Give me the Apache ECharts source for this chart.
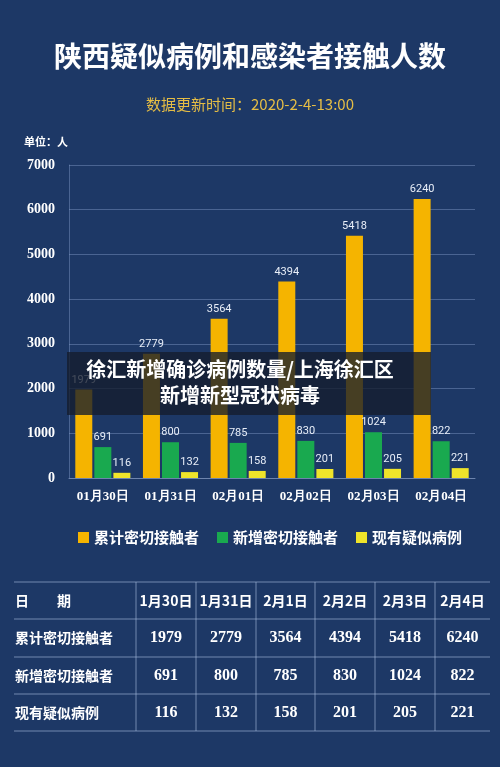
<!DOCTYPE html>
<html><head><meta charset="utf-8">
<script src="https://cdn.jsdelivr.net/npm/echarts@6/dist/echarts.min.js"></script>
<style>html,body{margin:0;padding:0;background:#1d3866;}#c{width:500px;height:767px;}</style>
</head><body><div id="c"></div>
<script>
const categories = ['01月30日','01月31日','02月01日','02月02日','02月03日','02月04日'];
const tableDates = ['1月30日','1月31日','2月1日','2月2日','2月3日','2月4日'];
const seriesNames = ['累计密切接触者','新增密切接触者','现有疑似病例'];
const cumulative = [1979,2779,3564,4394,5418,6240];
const newContacts = [691,800,785,830,1024,822];
const suspected = [116,132,158,201,205,221];
const colors = ['#f5b400','#19a94f','#efe42a'];
const yTicks = [0,1000,2000,3000,4000,5000,6000,7000];

const chart = echarts.init(document.getElementById('c'));
const CJK = '"Noto Sans CJK SC", sans-serif';
const SERIF = '"Liberation Serif","DejaVu Serif",serif';

const g = [];
const rowsY = [582,619,657,694,731];
const colsX = [14,136,196,256,315,375,435,490];
for (const y of rowsY) g.push({type:'line',shape:{x1:14,y1:y,x2:490,y2:y},style:{stroke:'rgba(170,190,225,0.6)',lineWidth:1}});
for (let i=1;i<colsX.length-1;i++) g.push({type:'line',shape:{x1:colsX[i],y1:582,x2:colsX[i],y2:731},style:{stroke:'rgba(170,190,225,0.6)',lineWidth:1}});
const rows = [tableDates, cumulative, newContacts, suspected];
const heads = ['日　　期', ...seriesNames];
rows.forEach((r,ri)=>{
  const cy = (rowsY[ri]+rowsY[ri+1])/2;
  g.push({type:'text',x:15,y:cy,style:{text:heads[ri],fill:'#fff',font:'bold 14px '+CJK,textVerticalAlign:'middle'}});
  r.forEach((v,ci)=>{
    const cx=(colsX[ci+1]+colsX[ci+2])/2;
    g.push({type:'text',x:cx,y:cy,style:{text:String(v),fill:'#fff',font:(ri===0?'bold 14px '+CJK:'bold 16px '+SERIF),textAlign:'center',textVerticalAlign:'middle'}});
  });
});
g.push({type:'rect',shape:{x:67,y:352,width:364,height:63},style:{fill:'rgba(20,28,45,0.78)'},z:100});
g.push({type:'text',x:240,y:369,style:{text:'徐汇新增确诊病例数量/上海徐汇区',fill:'#fff',font:'bold 20px '+CJK,textAlign:'center',textVerticalAlign:'middle'},z:101});
g.push({type:'text',x:240,y:395,style:{text:'新增新型冠状病毒',fill:'#fff',font:'bold 20px '+CJK,textAlign:'center',textVerticalAlign:'middle'},z:101});
g.push({type:'text',x:24,y:142,style:{text:'单位：人',fill:'#fff',font:'bold 11px '+CJK,textVerticalAlign:'middle'}});

const mk = (i,data)=>({name:seriesNames[i],type:'bar',data,barWidth:17,barGap:'12%',
  itemStyle:{color:colors[i]},
  label:{show:true,position:'top',color:'#e8eef8',fontSize:11,fontFamily:'Roboto, sans-serif',distance:4}});

chart.setOption({
  backgroundColor:'#1d3866',
  title:[{text:'陕西疑似病例和感染者接触人数',left:'center',top:37,textStyle:{color:'#fff',fontSize:28,fontWeight:'bold',fontFamily:CJK}},
         {text:'数据更新时间：2020-2-4-13:00',left:'center',top:92,textStyle:{color:'#e5bd45',fontSize:15,fontWeight:'normal',fontFamily:CJK}}],
  legend:{top:525,left:73,itemWidth:11,itemHeight:11,itemGap:18,icon:'rect',
    textStyle:{color:'#fff',fontSize:15,fontWeight:'bold',fontFamily:CJK},data:seriesNames},
  grid:{left:69,right:25,top:165,bottom:289},
  xAxis:{type:'category',data:categories,axisTick:{show:false},
    axisLine:{lineStyle:{color:'#6d84ad'}},
    axisLabel:{color:'#fff',fontSize:13,fontWeight:'bold',fontFamily:SERIF,margin:12}},
  yAxis:{type:'value',min:yTicks[0],max:yTicks[yTicks.length-1],interval:1000,
    axisLabel:{color:'#fff',fontSize:14,fontWeight:'bold',fontFamily:SERIF,margin:14,formatter:v=>String(v)},
    splitLine:{lineStyle:{color:'rgba(130,155,200,0.45)'}},axisLine:{show:true,lineStyle:{color:'rgba(130,155,200,0.45)'}}},
  series:[mk(0,cumulative),mk(1,newContacts),mk(2,suspected)],
  graphic:g
});
</script></body></html>
